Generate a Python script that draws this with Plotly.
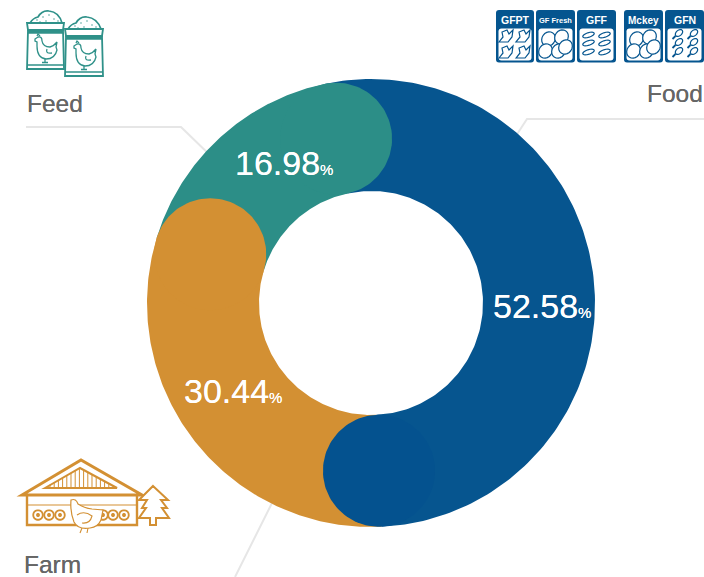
import numpy as np
import plotly.graph_objects as go

W, H = 704, 577
categories = ["Food", "Farm", "Feed"]
shares = [52.58, 30.44, 16.98]
colors = ["#06558F", "#D39033", "#2C8E87"]
cap_colors = ["#04528F", "#D39033", "#2C8E87"]
tile_labels = ["GFPT", "GF Fresh", "GFF", "Mckey", "GFN"]

START_DEG = -12.0
INNER = 0.5
CX, CY, R = 371, 303, 224
INK = "#05558F"; TEAL = "#2F9189"; ORANGE = "#D39033"; LINE = "#E6E6E6"; GREY = "#666666"

def polar(deg, r):
    a = np.radians(deg)
    return r * np.sin(a), r * np.cos(a)

edges = START_DEG + np.cumsum([0] + shares) * 3.6
fig = go.Figure()

# slice bodies
for i, c in enumerate(categories):
    t = np.linspace(edges[i], edges[i + 1], 160)
    xo, yo = polar(t, 1.0)
    xi, yi = polar(t[::-1], INNER)
    fig.add_trace(go.Scatter(x=np.r_[xo, xi], y=np.r_[yo, yi], fill="toself", mode="lines",
                             line=dict(width=0, color=colors[i]), fillcolor=colors[i],
                             name=c, hoverinfo="name", showlegend=False))
# rounded slice ends
mid, cap = (1 + INNER) / 2, (1 - INNER) / 2
for i, c in enumerate(categories):
    xc, yc = polar(edges[i + 1], mid)
    t = np.linspace(0, 360, 120)
    xp, yp = polar(t, cap)
    fig.add_trace(go.Scatter(x=xc + xp, y=yc + yp, fill="toself", mode="lines",
                             line=dict(width=0, color=cap_colors[i]), fillcolor=cap_colors[i],
                             name=c, hoverinfo="name", showlegend=False))

def px(x): return x / W
def py(y): return 1 - y / H

shapes = []
def path(d, color=None, width=1.5, fill=None, layer="above"):
    shapes.append(dict(type="path", xref="paper", yref="paper", path=d, layer=layer,
                       line=dict(color=color or "rgba(0,0,0,0)", width=width if color else 0),
                       fillcolor=fill or "rgba(0,0,0,0)"))

def poly(pts, close=False):
    s = "M" + " L".join(f"{px(a):.5f},{py(b):.5f}" for a, b in pts)
    return s + (" Z" if close else "")

def curve(seq):
    out = []
    for s in seq:
        coords = s[1:]
        txt = " ".join(f"{px(coords[k]):.5f},{py(coords[k + 1]):.5f}" for k in range(0, len(coords), 2))
        out.append(s[0] + txt)
    return " ".join(out)

def rrect(x0, y0, x1, y1, r):
    seq = [("M", x0 + r, y0), ("L", x1 - r, y0), ("Q", x1, y0, x1, y0 + r), ("L", x1, y1 - r),
           ("Q", x1, y1, x1 - r, y1), ("L", x0 + r, y1), ("Q", x0, y1, x0, y1 - r),
           ("L", x0, y0 + r), ("Q", x0, y0, x0 + r, y0)]
    return curve(seq) + " Z"

def ellipse(cx, cy, rx, ry, rot=0, n=28):
    t = np.linspace(0, 2 * np.pi, n, endpoint=False)
    c, s = np.cos(np.radians(rot)), np.sin(np.radians(rot))
    xs = rx * np.cos(t); ys = ry * np.sin(t)
    return poly(list(zip(cx + xs * c - ys * s, cy + xs * s + ys * c)), True)

# leader lines
path(poly([(26, 127), (181, 127), (215, 160)]), LINE, 2, layer="below")
path(poly([(704, 119), (527, 119), (512, 142)]), LINE, 2, layer="below")
path(poly([(280, 487), (235, 577)]), LINE, 2, layer="below")

# feed bags
def hen(ox, oy, color, w=1.3, s=1.0):
    X = lambda v: ox + v * s
    Y = lambda v: oy + v * s
    seq = [("M", X(3), Y(6)), ("L", X(6), Y(4)), ("Q", X(10), Y(3), X(10), Y(8)),
           ("Q", X(11), Y(14), X(18), Y(14)), ("Q", X(22), Y(13), X(25), Y(9)),
           ("L", X(24), Y(14)), ("L", X(25), Y(17)), ("Q", X(23), Y(26), X(14), Y(26)),
           ("Q", X(5), Y(25), X(5), Y(13)), ("L", X(5), Y(9)), ("L", X(3), Y(8))]
    path(curve(seq) + " Z", color, w, "#FFFFFF")
    path(curve([("M", X(15), Y(16)), ("Q", X(13), Y(21), X(20), Y(20))]), color, w)
    path(curve([("M", X(13), Y(26)), ("L", X(13), Y(29)), ("M", X(10), Y(29.5)), ("L", X(16), Y(29.5))]), color, w)
    path(curve([("M", X(5), Y(3)), ("L", X(6), Y(1)), ("L", X(8), Y(3))]), color, w)

def bag(x0, x1, y0, y1, hx, hy):
    path(curve([("M", x0 + 3, y0), ("Q", x0 + 6, y0 - 5, x0 + 11, y0 - 6), ("Q", x0 + 15, y0 - 13, x0 + 22, y0 - 12),
                ("Q", x0 + 32, y0 - 11, x1 - 2, y0)]), TEAL, 1.7, "#FFFFFF")
    path(poly([(x0, y0), (x1, y0), (x1 - 1, y0 + 7), (x0 + 1, y0 + 7)], True), TEAL, 1.8, "#FFFFFF")
    path(poly([(x0 + 1, y0 + 7), (x1 - 1, y0 + 7), (x1, y1), (x0, y1)], True), TEAL, 1.8, "#FFFFFF")
    path(poly([(x0 + 1, y0 + 9), (x1 - 1, y0 + 9)]), TEAL, 3.5)
    path(poly([(x0, y1 - 4), (x1, y1 - 4)]), TEAL, 1.4)
    for dx, dy in [(10, -3), (16, -6), (22, -8), (27, -4), (19, -2), (31, -2), (13, -1)]:
        path(ellipse(x0 + dx, y0 + dy, 0.7, 0.7, n=8), None, fill=TEAL)
    hen(hx, hy, TEAL)

bag(27, 64, 23, 69, 32, 33)
bag(65, 103, 29, 76, 71, 40)

# product tiles
tile_x = [(496, 534), (536, 575), (577, 616), (624, 663), (665, 704)]
tile_font = [10.5, 7.5, 10.5, 10, 10.5]
annotations = []
def sausage(x, y):
    path(ellipse(x, y, 6, 2.3, -18, n=16), INK, 1.2, "#FFFFFF")
def nugget(x, y, r=6.5):
    path(ellipse(x, y, r, r * 1.15, 35, n=20), INK, 1.2, "#FFFFFF")
def drum(x, y):
    path(ellipse(x + 2.5, y - 2, 4.2, 2.8, -40, n=16), INK, 1.2, "#FFFFFF")
    path(poly([(x - 1, y + 1), (x - 4, y + 4)]), INK, 1.8)
def wing(x, y):
    path(poly([(x - 7, y + 6), (x - 3, y + 1), (x - 4, y - 4), (x + 1, y - 6), (x + 3, y - 2),
               (x + 7, y - 6), (x + 6, y + 1), (x + 2, y + 6)], True), INK, 1.2, "#FFFFFF")

for k, ((x0, x1), lab) in enumerate(zip(tile_x, tile_labels)):
    path(rrect(x0, 10, x1, 62.5, 3), None, fill=INK)
    path(rrect(x0 + 2.5, 28.5, x1 - 2.5, 60.5, 3), None, fill="#FFFFFF")
    annotations.append(dict(x=px((x0 + x1) / 2), y=py(20), xref="paper", yref="paper", text=f"<b>{lab}</b>",
                            xanchor="center", yanchor="middle", showarrow=False,
                            font=dict(family="Liberation Sans", size=tile_font[k], color="#FFFFFF")))
    cx = (x0 + x1) / 2
    if lab == "GFPT":
        for dx, dy in [(-9, -8), (8, -8), (-9, 8), (8, 8)]:
            wing(cx + dx, 44 + dy)
    elif lab in ("GF Fresh", "Mckey"):
        for dx, dy in [(-7, -5), (6, -7), (-10, 7), (3, 7), (10, 3)]:
            nugget(cx + dx, 44 + dy)
    elif lab == "GFF":
        for dx in (-8, 8):
            for dy in (-9, -1, 8):
                sausage(cx + dx, 44 + dy)
    else:
        for dx in (-8, 7):
            for dy in (-9, 0, 9):
                drum(cx + dx, 44 + dy)

# farm
path(poly([(22, 495), (81, 460), (142, 495)], True), ORANGE, 3)
path(poly([(45, 488), (80, 468), (117, 488)], True), ORANGE, 2)
for x in np.arange(50, 114, 4.2):
    top = 488 - (20 * (1 - abs(x - 80) / 36))
    path(poly([(x, 488), (x, top)]), ORANGE, 1)
path(poly([(27, 496), (27, 525), (137, 525), (137, 496)]), ORANGE, 2.4)
path(poly([(28, 505), (136, 505)]), ORANGE, 1.2)
for x in [38, 49, 60, 103, 113, 124]:
    path(ellipse(x, 515, 4.8, 4.8, n=18), ORANGE, 1.8, "#FFFFFF")
    path(ellipse(x, 515, 2, 2, n=10), None, fill=ORANGE)
path(curve([("M", 71, 500), ("Q", 76, 498, 78, 504), ("Q", 84, 508, 92, 509), ("L", 103, 510), ("L", 101, 520),
            ("Q", 98, 527, 90, 528), ("Q", 78, 530, 74, 522), ("Q", 70, 512, 71, 500)]) + " Z", ORANGE, 1.2, "#FFFFFF")
path(curve([("M", 77, 515), ("Q", 84, 510, 92, 516), ("Q", 90, 524, 82, 523), ("M", 82, 528), ("L", 80, 533), ("M", 88, 528), ("L", 87, 533)]), ORANGE, 1.1)
path(poly([(153, 486), (168, 500), (161, 500), (167, 508), (162, 508), (169, 518), (156, 518), (156, 525),
           (150, 525), (150, 518), (139, 518), (146, 508), (142, 508), (147, 500), (139, 500)], True), ORANGE, 2, "#FFFFFF")

def note(x, y, text, size, color, anchor="center", shadow=None):
    font = dict(family="Liberation Sans", size=size, color=color)
    if shadow:
        font["shadow"] = shadow
    annotations.append(dict(x=px(x), y=py(y), xref="paper", yref="paper", text=text, showarrow=False,
                            xanchor=anchor, yanchor="middle", font=font))

note(24.5, 103.5, "Feed", 24.5, GREY, "left", "0 0 0.6px #666666")
note(705, 94, "Food", 24.5, GREY, "right", "0 0 0.6px #666666")
note(21.5, 564, "Farm", 24.5, GREY, "left", "0 0 0.6px #666666")

label_xy = {"Food": (491, 306), "Farm": (182, 390.5), "Feed": (233, 162.5)}
for c, v in zip(categories, shares):
    x, y = label_xy[c]
    note(x, y, f'{v:.2f}<span style="font-size:15px">%</span>', 34, "#FFFFFF", "left", "0 0 0.5px #FFFFFF")

fig.update_layout(
    width=W, height=H, margin=dict(l=0, r=0, t=0, b=0), paper_bgcolor="#FFFFFF", plot_bgcolor="#FFFFFF",
    showlegend=False, shapes=shapes, annotations=annotations,
    xaxis=dict(visible=False, range=[-CX / R, (W - CX) / R], fixedrange=True),
    yaxis=dict(visible=False, range=[-(H - CY) / R, CY / R], fixedrange=True),
)
fig.write_html("out.html", config=dict(displayModeBar=False),
               post_script="document.body.style.margin='0';document.body.style.overflow='hidden';")
